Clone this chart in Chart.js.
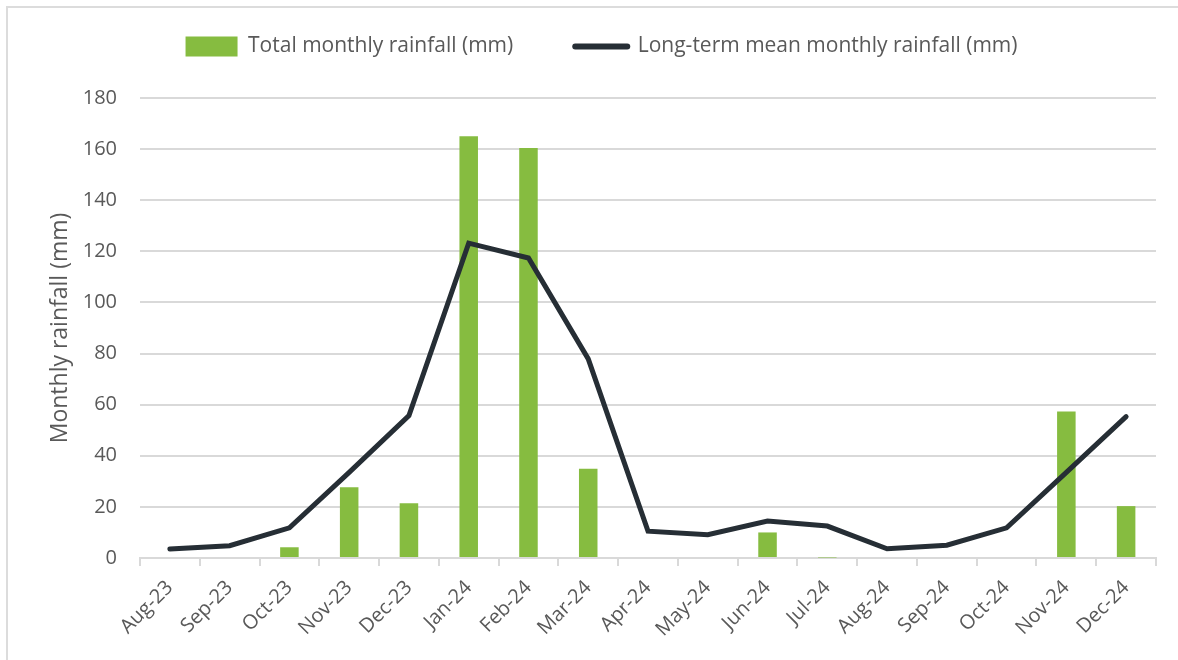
<!DOCTYPE html>
<html>
<head>
<meta charset="utf-8">
<script src="https://cdn.jsdelivr.net/npm/chart.js@4"></script>
<style>
  html, body { margin: 0; padding: 0; background: #fff; overflow: hidden; }
  #wrap { position: absolute; left: 6px; top: 6px; width: 1172px; height: 654px; box-sizing: border-box;
          border-left: 2px solid #dcdcdc; border-top: 2px solid #dcdcdc; }
</style>
</head>
<body>
<div id="wrap"><canvas id="myChart"></canvas></div>
<script>
var months = ['Aug-23','Sep-23','Oct-23','Nov-23','Dec-23','Jan-24','Feb-24','Mar-24','Apr-24',
              'May-24','Jun-24','Jul-24','Aug-24','Sep-24','Oct-24','Nov-24','Dec-24'];
var totalRain = [0, 0, 4.2, 27.7, 21.4, 165.0, 160.4, 34.9, 0, 0, 10.0, 0.2, 0, 0, 0, 57.3, 20.3];
var meanRain = [3.5, 4.8, 11.8, 33.5, 55.7, 123.2, 117.4, 77.9, 10.5, 9.1, 14.5, 12.5, 3.6, 5.0, 11.8, 33.5, 55.3];
var yTicks = [0, 20, 40, 60, 80, 100, 120, 140, 160, 180];

var barColor = '#86bc40';
var lineColor = '#262e35';
var textColor = '#595959';
var gridColor = '#d9d9d9';

Chart.defaults.font.family = "'Open Sans', sans-serif";
Chart.defaults.color = textColor;

// legend keeps wide horizontal gaps, so its height is set here
var legendHeight = {
  id: 'legendHeight',
  afterInit: function(chart) {
    var legend = chart.legend;
    var fit = legend.fit;
    legend.fit = function() {
      fit.call(this);
      this.height = 124;
    };
  }
};

var chartData = {
  labels: months,
  datasets: [
    {
      type: 'bar',
      label: 'Total monthly rainfall (mm)',
      data: totalRain,
      backgroundColor: barColor,
      borderWidth: 0,
      barPercentage: 0.31,
      categoryPercentage: 1.0,
      order: 2
    },
    {
      type: 'line',
      label: 'Long-term mean monthly rainfall (mm)',
      data: meanRain,
      borderColor: lineColor,
      backgroundColor: lineColor,
      borderWidth: 5,
      borderCapStyle: 'round',
      borderJoinStyle: 'miter',
      pointRadius: 0,
      tension: 0,
      fill: false,
      order: 1
    }
  ]
};

var chartOptions = {
  responsive: true,
  maintainAspectRatio: false,
  animation: false,
  layout: { padding: { left: 39, right: 22, top: -34, bottom: 4 } },
  plugins: {
    tooltip: { enabled: false },
    legend: {
      position: 'top',
      labels: {
        usePointStyle: true,
        pointStyleWidth: 52,
        boxHeight: 20,
        padding: 62,
        font: { size: 21 },
        color: textColor,
        sort: function(a, b) { return a.datasetIndex - b.datasetIndex; },
        generateLabels: function(chart) {
          var items = Chart.defaults.plugins.legend.labels.generateLabels(chart);
          items.forEach(function(it) {
            if (it.datasetIndex === 0) {
              it.pointStyle = 'rect';
              it.lineWidth = 0;
            } else {
              it.pointStyle = 'line';
              it.lineWidth = 6;
              it.lineCap = 'round';
              it.strokeStyle = lineColor;
            }
          });
          return items;
        }
      }
    }
  },
  scales: {
    x: {
      offset: true,
      grid: {
        display: true,
        drawOnChartArea: false,
        drawTicks: true,
        tickLength: 8,
        offset: true,
        color: gridColor,
        lineWidth: 2
      },
      border: { color: gridColor, width: 2 },
      ticks: {
        autoSkip: false,
        maxRotation: 45,
        minRotation: 45,
        font: { size: 20 },
        color: textColor,
        padding: 10
      },
      afterFit: function(scale) { scale.height = 98; }
    },
    y: {
      min: 0,
      max: 180,
      afterBuildTicks: function(scale) {
        scale.ticks = yTicks.map(function(v) { return { value: v }; });
      },
      grid: { color: gridColor, lineWidth: 2, drawTicks: false },
      border: { display: false },
      ticks: { font: { size: 20 }, color: textColor, padding: 23 },
      title: {
        display: true,
        text: 'Monthly rainfall (mm)',
        font: { size: 23 },
        color: textColor,
        padding: { top: 0, bottom: 0 }
      },
      afterFit: function(scale) { scale.width = 93; }
    }
  }
};

var ctx = document.getElementById('myChart').getContext('2d');
var myChart = new Chart(ctx, {
  type: 'bar',
  data: chartData,
  options: chartOptions,
  plugins: [legendHeight]
});
</script>
</body>
</html>
